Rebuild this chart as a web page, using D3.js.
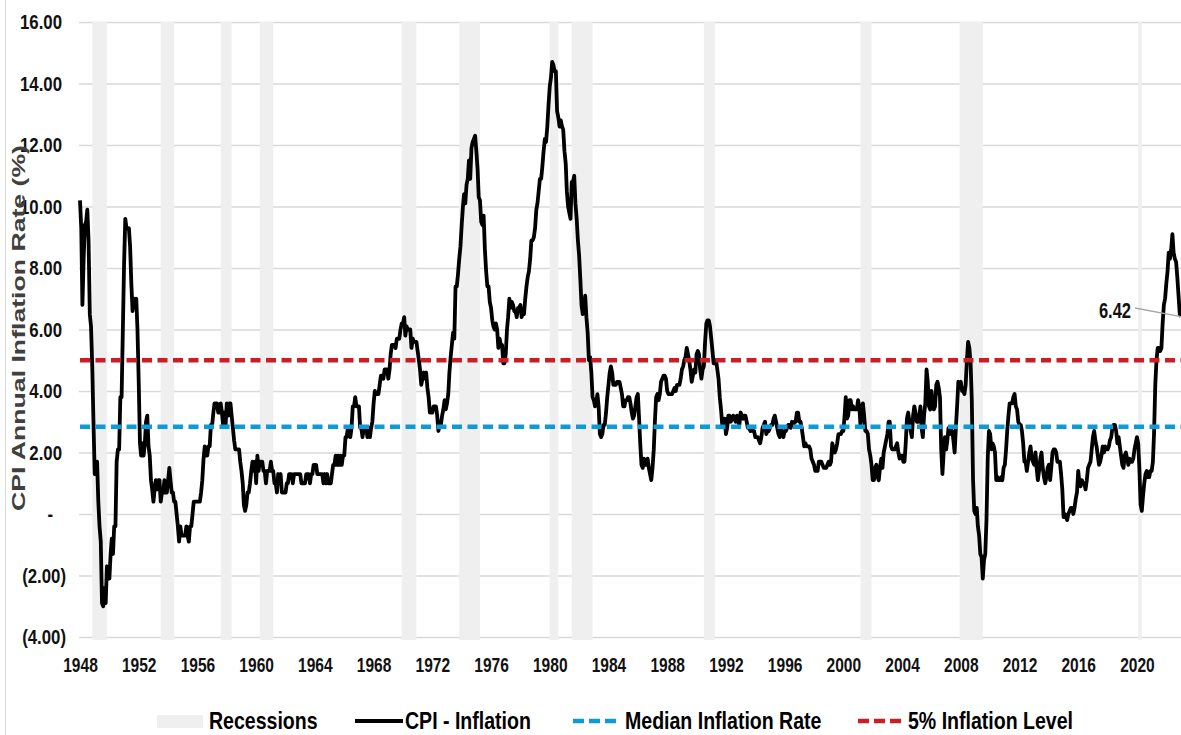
<!DOCTYPE html>
<html>
<head>
<meta charset="utf-8">
<script src="https://cdn.jsdelivr.net/npm/d3@7"></script>
<style>
    body { margin: 0; background: #fff; }
    svg text { font-family: "Liberation Sans", Arial, sans-serif; font-weight: bold; }
</style>
</head>
<body>
<div id="chart"></div>
<script>

// CPI year-over-year inflation (%), monthly from Jan 1948 to Jan 2023
const startYear = 1948;
const cpiInflation = [
    10.2, 9.3, 6.8, 8.3, 9.4, 9.5, 9.9, 8.9, 6.5, 6.1, 4.8, 3.0,      // 1948
    1.3, 1.3, 1.7, 0.4, -0.4, -0.9, -2.9, -3.0, -2.4, -2.9, -1.7, -2.1, // 1949
    -2.1, -1.3, -0.8, -1.3, -0.4, -0.4, 1.7, 2.1, 2.1, 3.8, 3.8, 5.9,   // 1950
    8.1, 9.6, 9.3, 9.3, 9.3, 8.7, 7.5, 6.6, 7.0, 6.9, 7.0, 6.0,        // 1951
    4.3, 2.3, 1.9, 2.3, 1.9, 2.3, 3.0, 3.2, 2.2, 1.9, 1.1, 0.8,        // 1952
    0.4, 0.8, 1.1, 0.8, 1.1, 1.1, 0.4, 0.7, 0.7, 1.1, 0.7, 0.7,        // 1953
    1.1, 1.5, 1.1, 0.7, 0.7, 0.4, 0.4, 0.0, -0.4, -0.9, -0.4, -0.7,    // 1954
    -0.7, -0.7, -0.7, -0.4, -0.7, -0.9, -0.4, -0.4, 0.0, 0.4, 0.4, 0.4, // 1955
    0.4, 0.4, 0.4, 0.7, 1.1, 1.8, 2.2, 1.9, 1.9, 2.2, 2.2, 2.9,        // 1956
    2.9, 3.3, 3.6, 3.6, 3.6, 3.3, 3.3, 3.6, 3.3, 2.9, 3.3, 2.9,        // 1957
    3.6, 3.2, 3.6, 3.6, 3.2, 2.8, 2.4, 2.1, 2.1, 2.1, 2.1, 1.7,        // 1958
    1.4, 1.0, 0.3, 0.1, 0.3, 0.7, 0.7, 1.0, 1.4, 1.7, 1.4, 1.7,        // 1959
    1.0, 1.9, 1.4, 1.7, 1.7, 1.7, 1.4, 1.4, 1.0, 1.4, 1.4, 1.4,        // 1960
    1.7, 1.4, 1.4, 1.0, 1.0, 0.7, 1.3, 1.0, 1.3, 0.7, 0.7, 0.7,        // 1961
    0.7, 1.0, 1.0, 1.3, 1.3, 1.3, 1.0, 1.3, 1.3, 1.3, 1.3, 1.3,        // 1962
    1.3, 1.0, 1.0, 1.0, 1.0, 1.3, 1.3, 1.3, 1.0, 1.3, 1.3, 1.6,        // 1963
    1.6, 1.6, 1.3, 1.3, 1.3, 1.3, 1.3, 1.0, 1.3, 1.0, 1.3, 1.0,        // 1964
    1.0, 1.0, 1.3, 1.6, 1.6, 1.9, 1.6, 1.9, 1.6, 1.9, 1.6, 1.9,        // 1965
    1.9, 2.5, 2.5, 2.8, 2.8, 2.5, 2.8, 3.5, 3.5, 3.8, 3.5, 3.5,        // 1966
    3.5, 2.8, 2.8, 2.5, 2.8, 2.8, 2.8, 2.5, 2.8, 2.5, 2.8, 3.0,        // 1967
    3.6, 4.0, 3.9, 3.9, 3.9, 4.2, 4.5, 4.5, 4.4, 4.7, 4.7, 4.7,        // 1968
    4.4, 4.7, 5.2, 5.5, 5.5, 5.5, 5.4, 5.7, 5.7, 5.7, 6.0, 6.2,        // 1969
    6.2, 6.4, 5.8, 6.1, 6.0, 6.0, 6.0, 5.4, 5.7, 5.6, 5.6, 5.6,        // 1970
    5.3, 5.0, 4.7, 4.2, 4.4, 4.6, 4.4, 4.6, 4.1, 3.8, 3.3, 3.3,        // 1971
    3.3, 3.5, 3.5, 3.5, 3.2, 2.7, 2.9, 2.9, 3.2, 3.4, 3.7, 3.4,        // 1972
    3.6, 3.9, 4.6, 5.1, 5.5, 5.9, 5.7, 7.4, 7.4, 7.8, 8.3, 8.7,        // 1973
    9.4, 10.0, 10.4, 10.1, 10.7, 10.9, 11.5, 10.9, 11.9, 12.1, 12.2, 12.3, // 1974
    11.8, 11.2, 10.3, 10.2, 9.5, 9.4, 9.7, 8.6, 7.9, 7.4, 7.4, 6.9,    // 1975
    6.7, 6.3, 6.1, 6.0, 6.2, 6.0, 5.4, 5.7, 5.5, 5.5, 4.9, 4.9,        // 1976
    5.2, 6.0, 6.4, 7.0, 6.7, 6.9, 6.8, 6.6, 6.6, 6.4, 6.7, 6.7,        // 1977
    6.8, 6.4, 6.6, 6.5, 7.0, 7.4, 7.7, 7.9, 8.3, 8.9, 8.9, 9.0,        // 1978
    9.3, 9.9, 10.1, 10.5, 10.9, 10.9, 11.3, 11.8, 12.2, 12.1, 12.6, 13.3, // 1979
    13.9, 14.2, 14.7, 14.6, 14.4, 14.4, 13.1, 12.9, 12.6, 12.8, 12.6, 12.5, // 1980
    11.8, 11.4, 10.5, 10.0, 9.8, 9.6, 10.8, 10.8, 11.0, 10.1, 9.6, 8.9, // 1981
    8.4, 7.6, 6.8, 6.5, 6.7, 7.1, 6.4, 5.9, 5.0, 5.1, 4.6, 3.8,        // 1982
    3.7, 3.5, 3.6, 3.9, 3.5, 2.6, 2.5, 2.6, 2.9, 2.9, 3.3, 3.8,        // 1983
    4.2, 4.6, 4.8, 4.6, 4.2, 4.2, 4.2, 4.3, 4.3, 4.3, 4.1, 3.9,        // 1984
    3.5, 3.5, 3.7, 3.7, 3.8, 3.8, 3.6, 3.3, 3.1, 3.2, 3.5, 3.8,        // 1985
    3.9, 3.1, 2.3, 1.6, 1.5, 1.8, 1.6, 1.6, 1.8, 1.5, 1.3, 1.1,        // 1986
    1.5, 2.1, 3.0, 3.8, 3.9, 3.7, 3.9, 4.3, 4.4, 4.5, 4.5, 4.4,        // 1987
    4.0, 3.9, 3.9, 3.9, 3.9, 4.0, 4.1, 4.0, 4.2, 4.2, 4.2, 4.4,        // 1988
    4.7, 4.8, 5.0, 5.1, 5.4, 5.2, 5.0, 4.7, 4.3, 4.5, 4.7, 4.6,        // 1989
    5.2, 5.3, 5.2, 4.7, 4.4, 4.7, 4.8, 5.6, 6.2, 6.3, 6.3, 6.1,        // 1990
    5.7, 5.3, 4.9, 4.9, 5.0, 4.7, 4.4, 3.8, 3.4, 2.9, 3.0, 3.1,        // 1991
    2.6, 2.8, 3.2, 3.2, 3.0, 3.1, 3.2, 3.1, 3.0, 3.2, 3.0, 2.9,        // 1992
    3.3, 3.2, 3.1, 3.2, 3.2, 3.0, 2.8, 2.8, 2.7, 2.8, 2.7, 2.7,        // 1993
    2.5, 2.5, 2.5, 2.4, 2.3, 2.5, 2.8, 2.9, 3.0, 2.6, 2.7, 2.7,        // 1994
    2.8, 2.9, 2.9, 3.1, 3.2, 3.0, 2.8, 2.6, 2.5, 2.8, 2.6, 2.5,        // 1995
    2.7, 2.7, 2.8, 2.9, 2.9, 2.8, 3.0, 2.9, 3.0, 3.0, 3.3, 3.3,        // 1996
    3.0, 3.0, 2.8, 2.5, 2.2, 2.3, 2.2, 2.2, 2.2, 2.1, 1.8, 1.7,        // 1997
    1.6, 1.4, 1.4, 1.4, 1.7, 1.7, 1.7, 1.6, 1.5, 1.5, 1.5, 1.6,        // 1998
    1.7, 1.6, 1.7, 2.3, 2.1, 2.0, 2.1, 2.3, 2.6, 2.6, 2.6, 2.7,        // 1999
    2.7, 3.2, 3.8, 3.1, 3.2, 3.7, 3.7, 3.4, 3.5, 3.4, 3.4, 3.4,        // 2000
    3.7, 3.5, 2.9, 3.3, 3.6, 3.2, 2.7, 2.7, 2.6, 2.1, 1.9, 1.6,        // 2001
    1.1, 1.1, 1.5, 1.6, 1.2, 1.1, 1.5, 1.8, 1.5, 2.0, 2.2, 2.4,        // 2002
    2.6, 3.0, 3.0, 2.2, 2.1, 2.1, 2.1, 2.2, 2.3, 2.0, 1.8, 1.9,        // 2003
    1.9, 1.7, 1.7, 2.3, 3.1, 3.3, 3.0, 2.7, 2.5, 3.2, 3.5, 3.3,        // 2004
    3.0, 3.0, 3.1, 3.5, 2.8, 2.5, 3.2, 3.6, 4.7, 4.3, 3.5, 3.4,        // 2005
    4.0, 3.6, 3.4, 3.5, 4.2, 4.3, 4.1, 3.8, 2.1, 1.3, 2.0, 2.5,        // 2006
    2.1, 2.4, 2.8, 2.6, 2.7, 2.7, 2.4, 2.0, 2.8, 3.5, 4.3, 4.1,        // 2007
    4.3, 4.0, 4.0, 3.9, 4.2, 5.0, 5.6, 5.4, 4.9, 3.7, 1.1, 0.1,        // 2008
    0.0, 0.2, -0.4, -0.7, -1.3, -1.4, -2.1, -1.5, -1.3, -0.2, 1.8, 2.7, // 2009
    2.6, 2.1, 2.3, 2.2, 2.0, 1.1, 1.2, 1.1, 1.1, 1.2, 1.1, 1.5,        // 2010
    1.6, 2.1, 2.7, 3.2, 3.6, 3.6, 3.6, 3.8, 3.9, 3.5, 3.4, 3.0,        // 2011
    2.9, 2.9, 2.7, 2.3, 1.7, 1.7, 1.4, 1.7, 2.0, 2.2, 1.8, 1.7,        // 2012
    1.6, 2.0, 1.5, 1.1, 1.4, 1.8, 2.0, 1.5, 1.2, 1.0, 1.2, 1.5,        // 2013
    1.6, 1.1, 1.5, 2.0, 2.1, 2.1, 2.0, 1.7, 1.7, 1.7, 1.3, 0.8,        // 2014
    -0.1, 0.0, -0.1, -0.2, 0.0, 0.1, 0.2, 0.2, 0.0, 0.2, 0.5, 0.7,     // 2015
    1.4, 1.0, 0.9, 1.1, 1.0, 1.0, 0.8, 1.1, 1.5, 1.6, 1.7, 2.1,        // 2016
    2.5, 2.7, 2.4, 2.2, 1.9, 1.6, 1.7, 1.9, 2.2, 2.0, 2.2, 2.1,        // 2017
    2.1, 2.2, 2.4, 2.5, 2.8, 2.9, 2.9, 2.7, 2.3, 2.5, 2.2, 1.9,        // 2018
    1.6, 1.5, 1.9, 2.0, 1.8, 1.6, 1.8, 1.7, 1.7, 1.8, 2.1, 2.3,        // 2019
    2.5, 2.3, 1.5, 0.3, 0.1, 0.6, 1.0, 1.3, 1.4, 1.2, 1.2, 1.4,        // 2020
    1.4, 1.7, 2.6, 4.2, 5.0, 5.4, 5.4, 5.3, 5.4, 6.2, 6.8, 7.0,        // 2021
    7.5, 7.9, 8.5, 8.3, 8.6, 9.1, 8.5, 8.3, 8.2, 7.7, 7.1, 6.5,        // 2022
    6.42                                                               // 2023
];

// NBER recessions: first month, month after the trough
const recessions = [
    ["1948-11", "1949-11"], ["1953-07", "1954-06"], ["1957-08", "1958-05"],
    ["1960-04", "1961-03"], ["1969-12", "1970-12"], ["1973-11", "1975-04"],
    ["1980-01", "1980-08"], ["1981-07", "1982-12"], ["1990-07", "1991-04"],
    ["2001-03", "2001-12"], ["2007-12", "2009-07"], ["2020-02", "2020-05"]
];

const medianRate = 2.84;
const inflationLevel = 5;
const lastLabel = "6.42";

const yTicks = [-4, -2, 0, 2, 4, 6, 8, 10, 12, 14, 16];
const xTicks = [1948, 1952, 1956, 1960, 1964, 1968, 1972, 1976, 1980, 1984,
    1988, 1992, 1996, 2000, 2004, 2008, 2012, 2016, 2020];

const legendLabels = ["Recessions", "CPI - Inflation", "Median Inflation Rate", "5% Inflation Level"];

let width = 1181;
let height = 735;
let plotLeft = 80, plotRight = 1181, plotTop = 22, plotBottom = 637;

let blue = "#0e9ad9";
let red = "#cc1c24";
let bandColor = "#efefef";
let gridColor = "#d9d9d9";

let parseMonth = d3.timeParse("%Y-%m");

let x = d3.scaleTime()
    .domain([new Date(startYear, 0, 1), new Date(2023, 0, 1)])
    .range([plotLeft, plotRight]);

let y = d3.scaleLinear()
    .domain([-4, 16])
    .range([plotBottom, plotTop]);

let svg = d3.select("#chart").append("svg")
    .attr("width", width)
    .attr("height", height);

// outer frame edge on the left
svg.append("line")
    .attr("x1", 5.5).attr("x2", 5.5)
    .attr("y1", 0).attr("y2", height)
    .attr("stroke", gridColor);

// y axis with gridlines
let fmt = d3.format(".2f");
let yAxis = d3.axisLeft(y)
    .tickValues(yTicks)
    .tickSize(-(plotRight - plotLeft + 1))
    .tickFormat(d => d === 0 ? "-" : d < 0 ? "(" + fmt(-d) + ")" : fmt(d));

let yg = svg.append("g")
    .attr("transform", "translate(" + (plotLeft - 1) + ",0)")
    .call(yAxis);
yg.select(".domain").remove();
yg.selectAll("line")
    .attr("stroke", gridColor)
    .attr("stroke-width", 1.3);
yg.selectAll("text")
    .attr("x", null)
    .attr("fill", "#111")
    .style("font-size", "21px")
    .attr("transform", d => {
        let off = d === 0 ? -26 : d < 0 ? -13 : -17;
        return "translate(" + off + ",0) scale(0.8,1)";
    });

// recession bands
svg.append("g")
    .selectAll("rect")
    .data(recessions)
    .enter().append("rect")
    .attr("x", d => x(parseMonth(d[0])))
    .attr("width", d => x(parseMonth(d[1])) - x(parseMonth(d[0])))
    .attr("y", y(16))
    .attr("height", y(-4.1) - y(16))
    .attr("fill", bandColor);

// x axis labels only
let xAxis = d3.axisBottom(x)
    .tickValues(xTicks.map(yr => new Date(yr, 0, 1)))
    .tickSize(0)
    .tickFormat(d3.timeFormat("%Y"));

let xg = svg.append("g")
    .attr("transform", "translate(0," + plotBottom + ")")
    .call(xAxis);
xg.select(".domain").remove();
xg.selectAll("text")
    .attr("y", 35)
    .attr("dy", null)
    .attr("fill", "#111")
    .style("font-size", "21px")
    .attr("transform", "scale(0.74,1)");

// y axis title
svg.append("text")
    .attr("transform", "translate(25,328) rotate(-90)")
    .attr("text-anchor", "middle")
    .attr("fill", "#404040")
    .attr("textLength", 366)
    .attr("lengthAdjust", "spacingAndGlyphs")
    .style("font-size", "19px")
    .text("CPI Annual Inflation Rate (%)");

// cpi line
let points = cpiInflation.map((v, i) => ({date: new Date(startYear, i, 1), value: v}));

let line = d3.line()
    .x(d => x(d.date))
    .y(d => y(d.value));

svg.append("path")
    .datum(points)
    .attr("d", line)
    .attr("fill", "none")
    .attr("stroke", "#000")
    .attr("stroke-width", 3.8)
    .attr("stroke-linejoin", "round");

// median and 5% reference lines
let refs = [{value: medianRate, color: blue}, {value: inflationLevel, color: red}];
svg.append("g")
    .selectAll("line")
    .data(refs)
    .enter().append("line")
    .attr("x1", plotLeft)
    .attr("x2", plotRight)
    .attr("y1", d => y(d.value))
    .attr("y2", d => y(d.value))
    .attr("stroke", d => d.color)
    .attr("stroke-width", 4.5)
    .attr("stroke-dasharray", "10,5.5");

// label for the last value
let last = points[points.length - 1];
svg.append("line")
    .attr("x1", 1135).attr("y1", 308)
    .attr("x2", x(last.date)).attr("y2", y(last.value))
    .attr("stroke", "#a6a6a6")
    .attr("stroke-width", 1.3);
svg.append("text")
    .attr("transform", "translate(1131,318) scale(0.75,1)")
    .attr("text-anchor", "end")
    .attr("fill", "#111")
    .style("font-size", "22px")
    .text(lastLabel);

// legend
let legend = svg.append("g").attr("id", "legend");
let ly = 721;

legend.append("rect")
    .attr("x", 157).attr("y", 715)
    .attr("width", 46).attr("height", 13)
    .attr("fill", bandColor);
legend.append("line")
    .attr("x1", 355).attr("x2", 403)
    .attr("y1", ly).attr("y2", ly)
    .attr("stroke", "#000").attr("stroke-width", 4);
legend.selectAll(".ref")
    .data(refs)
    .enter().append("line")
    .attr("class", "ref")
    .attr("x1", (d, i) => i === 0 ? 573 : 858)
    .attr("x2", (d, i) => i === 0 ? 617 : 902)
    .attr("y1", ly).attr("y2", ly)
    .attr("stroke", d => d.color)
    .attr("stroke-width", 4.5)
    .attr("stroke-dasharray", "11,5");

let labelX = [209, 405, 625, 908];
legend.selectAll(".lab")
    .data(legendLabels)
    .enter().append("text")
    .attr("class", "lab")
    .attr("transform", (d, i) => "translate(" + labelX[i] + ",729) scale(0.85,1)")
    .attr("fill", "#000")
    .style("font-size", "23px")
    .text(d => d);

</script>
</body>
</html>
